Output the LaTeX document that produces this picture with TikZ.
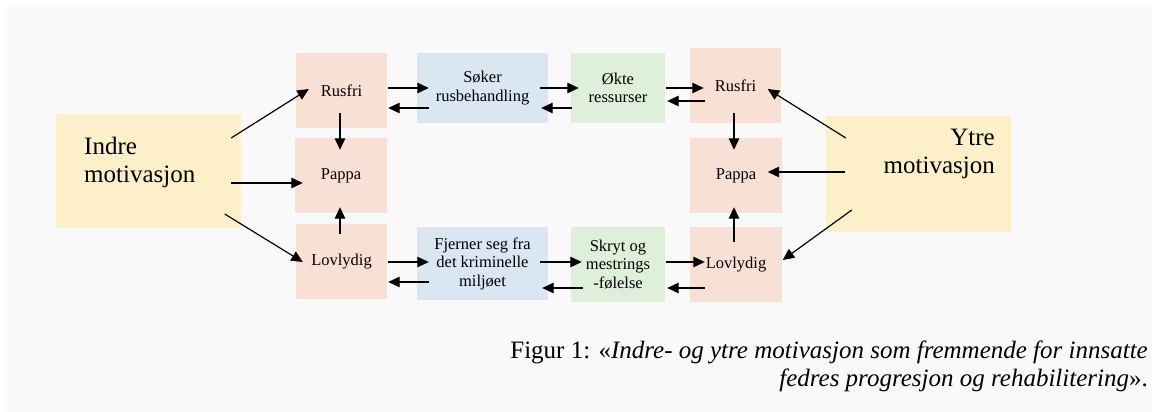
\documentclass[tikz,border=0pt]{standalone}
\usepackage{fontspec}
\setmainfont{Liberation Serif}
\usetikzlibrary{calc,arrows.meta}
\definecolor{bgc}{HTML}{F9F9F9}
\definecolor{yel}{HTML}{FCEFC9}
\definecolor{pch}{HTML}{F9E0D5}
\definecolor{blu}{HTML}{DBE6F3}
\definecolor{grn}{HTML}{DEEFDA}
\tikzset{
  box/.style={inner sep=0pt, align=center, font=\fontsize{16.5}{18.5}\selectfont},
  pbox/.style={box, fill=pch, minimum width=91pt, minimum height=75pt},
  bbox/.style={box, fill=blu, minimum width=131pt},
  gbox/.style={box, fill=grn, minimum width=94pt},
  ybox/.style={inner sep=0pt, fill=yel, minimum width=185pt},
  big/.style={inner sep=0pt, font=\fontsize{25}{28}\selectfont},
  captxt/.style={inner sep=0pt, anchor=base east, font=\fontsize{25}{28}\selectfont},
  arr/.style={line width=1.2pt, -{Triangle[length=11.5pt,width=10.5pt]}}
}
\begin{document}
\begin{tikzpicture}[x=1pt,y=-1pt]
\useasboundingbox (0,0) rectangle (1152,412);
\fill[white] (0,0) rectangle (1152,412);
\fill[bgc] (7,7) rectangle (1152,412);
% boxes
\node[ybox, minimum height=114pt] (indre) at (148,171) {};
\node[big, anchor=west, align=left] (indretxt) at (84,162) {Indre\\motivasjon};
\node[ybox, minimum height=116pt] (ytre) at (918.5,174) {};
\node[big, anchor=east, align=right] (ytretxt) at (995,154) {Ytre\\motivasjon};
\node[pbox] (rl) at (341.5,90.5) {Rusfri};
\node[pbox, minimum width=92pt] (pl) at (341,175.5) {Pappa};
\node[pbox] (ll) at (341.5,261.5) {Lovlydig};
\node[bbox, minimum height=70pt] (sk) at (482.5,88) {Søker\\rusbehandling};
\node[bbox, minimum height=73pt] (fj) at (482.5,263.5) {Fjerner seg fra\\det kriminelle\\miljøet};
\node[gbox, minimum height=70pt] (ok) at (618,88) {Økte\\ressurser};
\node[gbox, minimum height=75pt] (sm) at (618,264.5) {Skryt og\\mestrings\\-følelse};
\node[pbox] (rr) at (735.5,85.5) {Rusfri};
\node[pbox, minimum width=92pt] (pr) at (736,175.5) {Pappa};
\node[pbox, minimum width=92pt] (lr) at (736,264.5) {Lovlydig};
% arrows
\draw[arr] ($(indre.east)+(-9.5,-33)$) -- ($(rl.west)+(13,-1.5)$);
\draw[arr] ($(indre.east)+(-9.5,12)$) -- ($(pl.west)+(8,7.5)$);
\draw[arr] ($(indre.east)+(-16,43)$) -- ($(ll.west)+(7,0.5)$);
\draw[arr] ($(rl.south)+(-1.5,-15)$) -- ($(pl.north)+(-1,12)$);
\draw[arr] ($(ll.north)+(-1.5,10)$) -- ($(pl.south)+(-1,-6)$);
\draw[arr] ($(rl.east)+(1,-2.5)$) -- ($(sk.west)+(12,0)$);
\draw[arr] ($(sk.west)+(12,20)$) -- ($(rl.east)+(1,17.5)$);
\draw[arr] ($(sk.east)+(-8,0)$) -- ($(ok.west)+(8,0)$);
\draw[arr] ($(ok.west)+(1,20)$) -- ($(sk.east)+(-7,20)$);
\draw[arr] ($(ok.east)+(1,0)$) -- ($(rr.west)+(14,2.5)$);
\draw[arr] ($(rr.west)+(15,15.5)$) -- ($(ok.east)+(2,13)$);
\draw[arr] ($(rr.south)+(-1.5,-10)$) -- ($(pr.north)+(-2,12)$);
\draw[arr] ($(lr.north)+(-2,15)$) -- ($(pr.south)+(-2,-6)$);
\draw[arr] ($(ytre.west)+(20,-36)$) -- ($(rr.east)+(-13.5,3.5)$);
\draw[arr] ($(ytre.west)+(19,-2)$) -- ($(pr.east)+(-14.5,-3.5)$);
\draw[arr] ($(ytre.west)+(26,36)$) -- ($(lr.east)+(0.5,-4.5)$);
\draw[arr] ($(ll.east)+(1,0.5)$) -- ($(fj.west)+(12,-1.5)$);
\draw[arr] ($(fj.west)+(12,18.5)$) -- ($(ll.east)+(1,20.5)$);
\draw[arr] ($(fj.east)+(-8,-1.5)$) -- ($(sm.west)+(11,-2.5)$);
\draw[arr] ($(sm.west)+(12,23.5)$) -- ($(fj.east)+(-6,24.5)$);
\draw[arr] ($(sm.east)+(1,-2.5)$) -- ($(lr.west)+(15,-2.5)$);
\draw[arr] ($(lr.west)+(15,23.5)$) -- ($(sm.east)+(2,23.5)$);
% caption
\node[captxt] (cap1) at (1148,358) {Figur 1: «\textit{Indre- og ytre motivasjon som fremmende for innsatte}};
\node[captxt] (cap2) at (1148,386) {\textit{fedres progresjon og rehabilitering}».};
\end{tikzpicture}
\end{document}
